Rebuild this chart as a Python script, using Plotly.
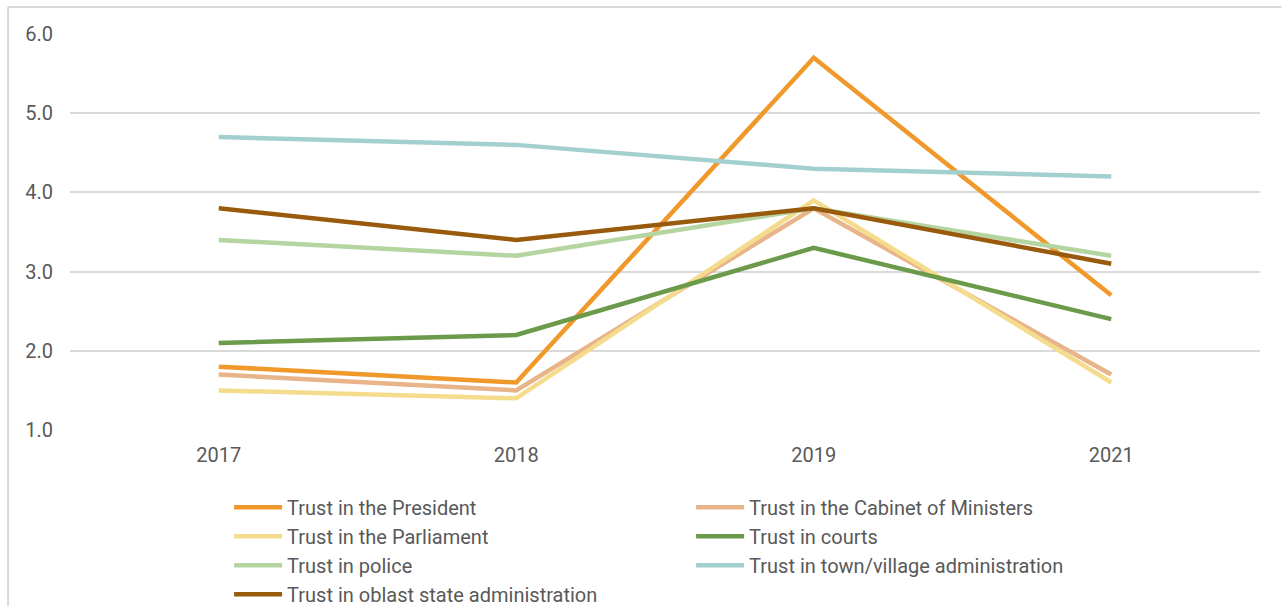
import plotly.graph_objects as go

years = ["2017", "2018", "2019", "2021"]

series_names = [
    "Trust in the President",
    "Trust in the Cabinet of Ministers",
    "Trust in the Parliament",
    "Trust in courts",
    "Trust in police",
    "Trust in town/village administration",
    "Trust in oblast state administration",
]

president = [1.8, 1.6, 5.7, 2.7]
cabinet = [1.7, 1.5, 3.8, 1.7]
parliament = [1.5, 1.4, 3.9, 1.6]
courts = [2.1, 2.2, 3.3, 2.4]
police = [3.4, 3.2, 3.8, 3.2]
town_admin = [4.7, 4.6, 4.3, 4.2]
oblast_admin = [3.8, 3.4, 3.8, 3.1]

colors = ["#F0982A", "#E8B48A", "#F5DC8C", "#6A9A4A", "#B5D5A0", "#A3D0CF", "#995A0E"]

values = [president, cabinet, parliament, courts, police, town_admin, oblast_admin]

fig = go.Figure()
for name, vals, col in zip(series_names, values, colors):
    fig.add_trace(go.Scatter(
        x=years, y=vals, name=name, mode="lines",
        line=dict(color=col, width=4.5),
    ))

# chart frame: top and left edges, kept inside the figure canvas
frame = dict(color="#D9D9D9", width=2)
fig.add_shape(type="line", xref="paper", yref="paper",
              x0=-0.052, x1=1.018, y0=1.068, y1=1.068, line=frame, layer="below")
fig.add_shape(type="line", xref="paper", yref="paper",
              x0=-0.052, x1=-0.052, y0=1.068, y1=-0.445, line=frame, layer="below")

fig.update_layout(
    width=1282, height=607,
    margin=dict(l=70, r=22, t=34, b=177, autoexpand=False),
    plot_bgcolor="white", paper_bgcolor="white",
    font=dict(family="Roboto", color="#595959", size=20),
    showlegend=True,
    legend=dict(
        orientation="h", x=0.1337, y=-0.146, xanchor="left", yanchor="top",
        entrywidth=399, entrywidthmode="pixels",
        font=dict(size=20, color="#595959"),
        tracegroupgap=0, itemwidth=48, maxheight=200,
    ),
    xaxis=dict(
        type="category", range=[-0.5, 3.5], showgrid=False, zeroline=False,
        showline=False, ticks="", ticklabelstandoff=11,
        tickfont=dict(size=20, color="#595959"),
    ),
    yaxis=dict(
        range=[1, 6], dtick=1, tickformat=".1f", showgrid=True,
        gridcolor="#D9D9D9", gridwidth=1.5, zeroline=False, showline=False,
        ticks="", ticklabelstandoff=16,
        tickfont=dict(size=20, color="#595959"),
    ),
)

fig.write_html("out.html")
